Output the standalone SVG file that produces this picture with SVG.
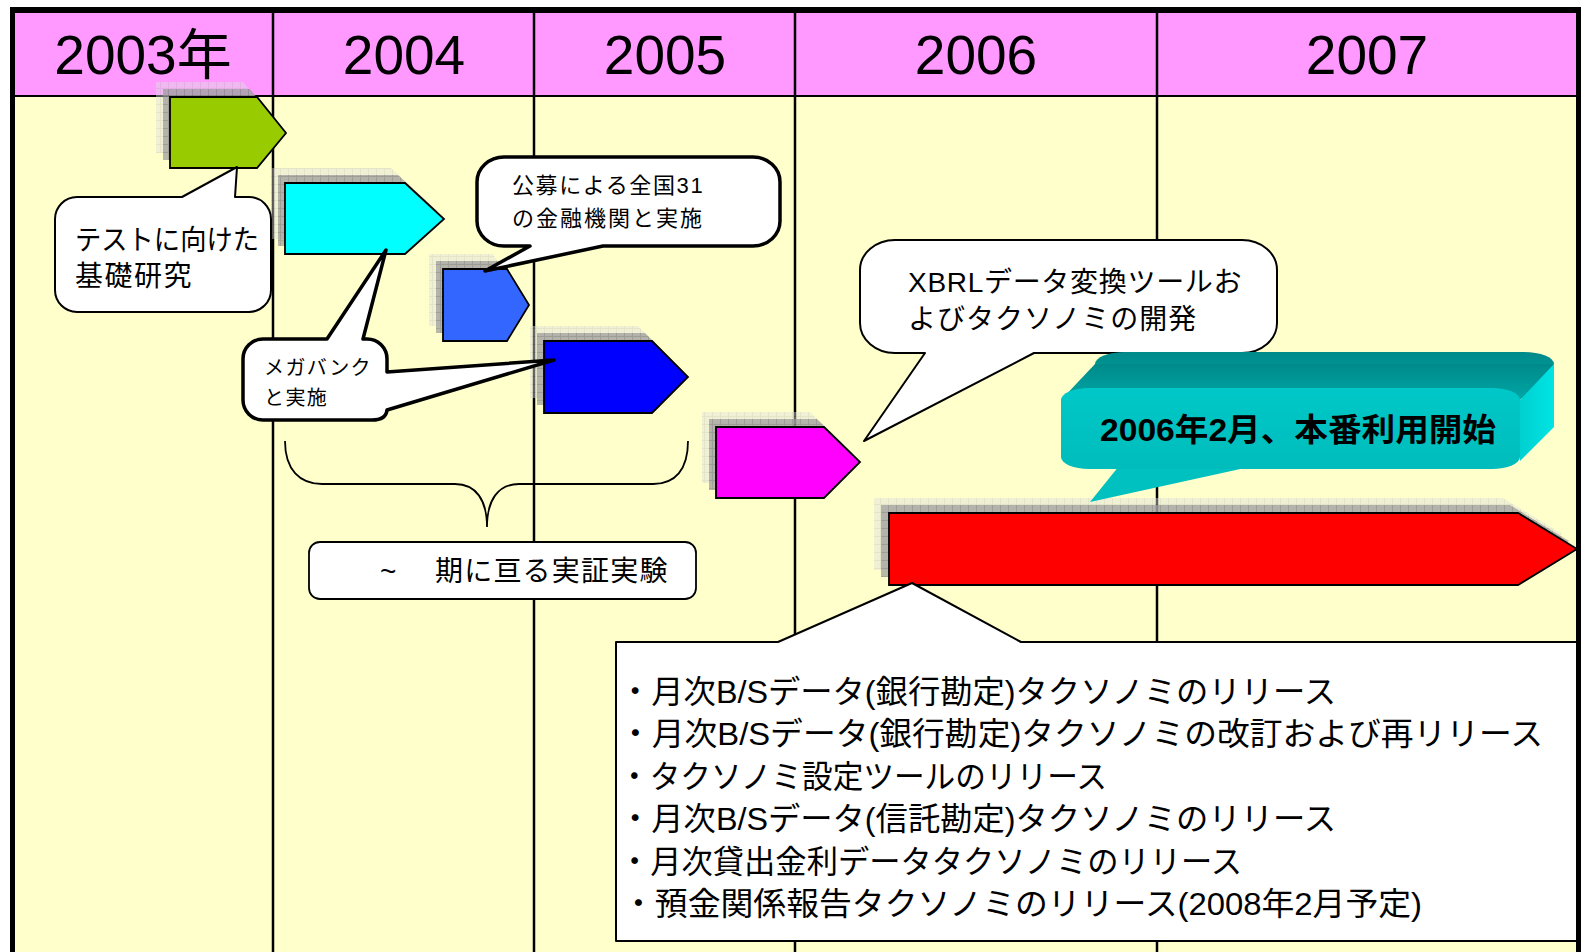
<svg xmlns="http://www.w3.org/2000/svg" width="1581" height="952" viewBox="0 0 1581 952">
<defs>
<style>
text{font-family:"Liberation Sans","Noto Sans CJK JP",sans-serif;fill:#000}
.yr{font-size:55px;text-anchor:middle}
.col{stroke:#000;stroke-width:2.5}
.arr{stroke:#000;stroke-width:1.8;stroke-linejoin:miter}
.shD{fill:url(#pDark);opacity:0.7}
.shL{fill:url(#pLight);opacity:0.45}
.cl{fill:#fff;stroke:#000;stroke-linejoin:round}
.list{font-size:32px}
</style>
<pattern id="pDark" width="8" height="8" patternUnits="userSpaceOnUse"><rect width="8" height="8" fill="#999"/><path d="M0,0.5H8M0.5,0V8" stroke="#808080" stroke-width="1"/></pattern>
<pattern id="pLight" width="8" height="8" patternUnits="userSpaceOnUse"><rect width="8" height="8" fill="#ddd"/><path d="M0,0.5H8M0.5,0V8" stroke="#c4c4c4" stroke-width="1"/></pattern>
<linearGradient id="gTop" x1="0" y1="0" x2="0" y2="1"><stop offset="0" stop-color="#008a8a"/><stop offset="1" stop-color="#00a6a6"/></linearGradient>
<linearGradient id="gFront" x1="0" y1="0" x2="0" y2="1"><stop offset="0" stop-color="#00c8c8"/><stop offset="1" stop-color="#00bcbc"/></linearGradient>
<linearGradient id="gSide" x1="0" y1="0" x2="1" y2="0"><stop offset="0" stop-color="#00d0d0"/><stop offset="1" stop-color="#00e4e4"/></linearGradient>
</defs>

<g id="table">
<rect x="10" y="7" width="1571" height="945" fill="#000"/>
<rect x="15" y="13" width="1561" height="82" fill="#FF99FF"/>
<rect x="15" y="97" width="1561" height="855" fill="#FFFFCC"/>
<line class="col" x1="273" y1="13" x2="273" y2="952"/>
<line class="col" x1="534" y1="13" x2="534" y2="952"/>
<line class="col" x1="795" y1="13" x2="795" y2="952"/>
<line class="col" x1="1157" y1="13" x2="1157" y2="952"/>
<text class="yr" x="143" y="74">2003年</text>
<text class="yr" x="404" y="74">2004</text>
<text class="yr" x="665" y="74">2005</text>
<text class="yr" x="976" y="74">2006</text>
<text class="yr" x="1367" y="74">2007</text>
</g>

<g id="phase-2003">
<polygon class="shL" points="156,82 243,82 272,118 243,153 156,153"/>
<polygon class="shD" points="163,89 250,89 279,125 250,160 163,160"/>
<polygon class="arr" fill="#99CC00" points="170,97 257,97 286,133 257,168 170,168"/>
</g>
<g id="phase-2004a">
<polygon class="shL" points="271,168 391,168 430,204 391,239 271,239"/>
<polygon class="shD" points="278,175 398,175 437,211 398,246 278,246"/>
<polygon class="arr" fill="#00FFFF" points="285,183 405,183 444,219 405,254 285,254"/>
</g>
<g id="phase-2004b">
<polygon class="shL" points="429,254 493,254 515,290 493,326 429,326"/>
<polygon class="shD" points="436,261 500,261 522,297 500,333 436,333"/>
<polygon class="arr" fill="#3366FF" points="443,269 507,269 529,305 507,341 443,341"/>
</g>
<g id="phase-2005">
<polygon class="shL" points="530,326 638,326 674,362 638,398 530,398"/>
<polygon class="shD" points="537,333 645,333 681,369 645,405 537,405"/>
<polygon class="arr" fill="#0000FF" points="544,341 652,341 688,377 652,413 544,413"/>
</g>
<g id="phase-2006a">
<polygon class="shL" points="702,412 810,412 846,447 810,483 702,483"/>
<polygon class="shD" points="709,419 817,419 853,454 817,490 709,490"/>
<polygon class="arr" fill="#FF00FF" points="716,427 824,427 860,462 824,498 716,498"/>
</g>
<g id="production">
<polygon class="shL" points="874,498 1503,498 1562,534 1503,570 874,570"/>
<polygon class="shD" points="881,505 1510,505 1569,541 1510,577 881,577"/>
<polygon class="arr" fill="#FF0000" points="889,513 1518,513 1577,549 1518,585 889,585"/>
</g>

<g id="connectors">
<path d="M285,441 C285,470 300,484 322,484 L455,484 C476,484 487,500 487,527 C487,500 498,484 519,484 L653,484 C675,484 688,470 688,441" fill="none" stroke="#000" stroke-width="1.8"/>
</g>

<g id="note-basic">
<path class="cl" stroke-width="2" d="M77,197 L182,197 L237,167 L235,197 L249,197 A22,22 0 0 1 271,219 L271,290 A22,22 0 0 1 249,312 L77,312 A22,22 0 0 1 55,290 L55,219 A22,22 0 0 1 77,197 Z"/>
<text x="75" y="250" font-size="28" textLength="184" lengthAdjust="spacingAndGlyphs">テストに向けた</text>
<text x="75" y="286" font-size="28" letter-spacing="1.5">基礎研究</text>
</g>

<g id="note-public">
<path class="cl" stroke-width="3.5" d="M504,157 L753,157 A27,25 0 0 1 780,182 L780,221 A27,25 0 0 1 753,246 L603,246 L485,271 L530,246 L504,246 A27,25 0 0 1 477,221 L477,182 A27,25 0 0 1 504,157 Z"/>
<text x="512" y="193" font-size="22" letter-spacing="1.6">公募による全国31</text>
<text x="512" y="226" font-size="22" letter-spacing="2">の金融機関と実施</text>
</g>

<g id="note-megabank">
<path class="cl" stroke-width="3.5" d="M263,339 L327,339 L386,250 L363,339 L367,339 A20,20 0 0 1 387,359 L387,372 L554,360 L387,410 Q386,420 372,420 L263,420 A20,20 0 0 1 243,400 L243,359 A20,20 0 0 1 263,339 Z"/>
<text x="264" y="375" font-size="20" letter-spacing="1.4">メガバンク</text>
<text x="264" y="405" font-size="20" letter-spacing="1.4">と実施</text>
</g>

<g id="note-trial">
<rect x="309" y="542" width="387" height="57" rx="11" fill="#fff" stroke="#000" stroke-width="1.8"/>
<text x="380" y="581" font-size="28">~</text>
<text x="435" y="581" font-size="28" letter-spacing="1.2">期に亘る実証実験</text>
</g>

<g id="note-xbrl">
<path class="cl" stroke-width="2" d="M895,240 L1242,240 A35,30 0 0 1 1277,270 L1277,323 A35,30 0 0 1 1242,353 L1034,353 L864,441 L925,353 L895,353 A35,30 0 0 1 860,323 L860,270 A35,30 0 0 1 895,240 Z"/>
<text x="908" y="292" font-size="28" letter-spacing="0.7">XBRLデータ変換ツールお</text>
<text x="908" y="329" font-size="28" letter-spacing="1">よびタクソノミの開発</text>
</g>

<g id="banner-2006">
<rect x="1095" y="352" width="459" height="46" rx="30" ry="12" fill="url(#gTop)"/>
<polygon points="1061,400 1095,364 1554,364 1520,400" fill="url(#gTop)"/>
<polygon points="1520,400 1554,364 1554,427 1520,461" fill="url(#gSide)"/>
<polygon points="1119,466 1090,502 1254,466" fill="#00c0c0"/>
<rect x="1061" y="388" width="459" height="81" rx="28" ry="12" fill="url(#gFront)"/>
<text x="1100" y="441" font-size="32" font-weight="bold" textLength="396" lengthAdjust="spacingAndGlyphs">2006年2月、本番利用開始</text>
</g>

<g id="note-releases">
<path class="cl" stroke-width="2" d="M616,642 L778,642 L912,583 L1021,642 L1577,642 L1577,941 L616,941 Z"/>
<text class="list" x="619" y="703" textLength="717" lengthAdjust="spacingAndGlyphs">・月次B/Sデータ(銀行勘定)タクソノミのリリース</text>
<text class="list" x="619" y="745" textLength="924" lengthAdjust="spacingAndGlyphs">・月次B/Sデータ(銀行勘定)タクソノミの改訂および再リリース</text>
<text class="list" x="619" y="788" textLength="488" lengthAdjust="spacingAndGlyphs">・タクソノミ設定ツールのリリース</text>
<text class="list" x="619" y="830" textLength="717" lengthAdjust="spacingAndGlyphs">・月次B/Sデータ(信託勘定)タクソノミのリリース</text>
<text class="list" x="619" y="873" textLength="623" lengthAdjust="spacingAndGlyphs">・月次貸出金利データタクソノミのリリース</text>
<text class="list" x="622" y="915" textLength="800" lengthAdjust="spacingAndGlyphs">・預金関係報告タクソノミのリリース(2008年2月予定)</text>
</g>

<g id="border-right">
<rect x="1576" y="7" width="5" height="945" fill="#000"/>
</g>
</svg>
